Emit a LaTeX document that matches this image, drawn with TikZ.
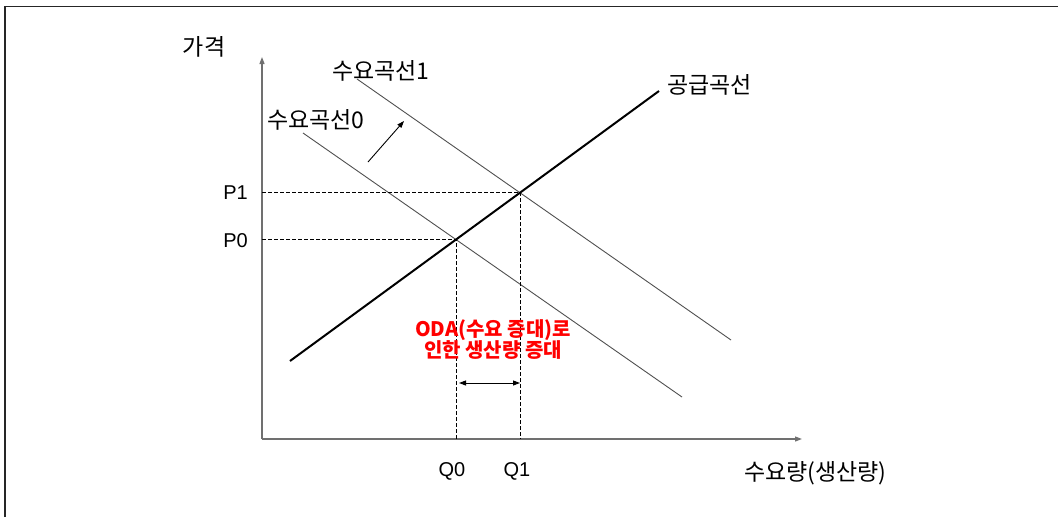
\documentclass[tikz,border=0pt]{standalone}
\usepackage{fontspec}
\setmainfont{Liberation Sans}
\newfontfamily\kr{Noto Sans CJK KR}
\usetikzlibrary{arrows.meta,positioning,calc}
\definecolor{axisgray}{HTML}{707070}
\definecolor{curvegray}{HTML}{505050}
\definecolor{odared}{HTML}{FF0000}

\begin{document}
\begin{tikzpicture}[x=1pt,y=-1pt, every node/.style={font=\fontsize{20}{24}\selectfont,inner sep=0pt}]
    \tikzstyle{axis}=[-{Triangle[length=7pt,width=5pt]},axisgray,line width=1.2pt]
    \tikzstyle{demand}=[curvegray,line width=0.9pt]
    \tikzstyle{supply}=[black,line width=2pt]
    \tikzstyle{guide}=[black,line width=0.8pt,dash pattern=on 3.5pt off 2.5pt]
    \tikzstyle{shiftarrow}=[-{Triangle[length=7pt,width=5pt]},black,line width=0.9pt]
    \tikzstyle{krlabel}=[font=\kr\fontsize{23}{27}\selectfont]
    \useasboundingbox (0,0) rectangle (1058,517);
    \draw[line width=1.8pt,black!85] (5,517) -- (5,6.5) -- (1058,6.5);
    % axes
    \coordinate (o) at (262,439);
    \coordinate (ytop) at (262,57);
    \coordinate (xend) at (802,439);
    \draw[axis] (o) -- (ytop);
    \draw[axis] (o) -- (xend);
    % curves
    \coordinate (s0) at (290,361);
    \coordinate (s1) at (659,91);
    \coordinate (d0a) at (303,133);
    \coordinate (d0b) at (682,397);
    \coordinate (d1a) at (357,79);
    \coordinate (d1b) at (731,340);
    \coordinate (e0) at (456,239);
    \coordinate (e1) at (520,192);
    \draw[demand] (d0a) -- (d0b);
    \draw[demand] (d1a) -- (d1b);
    \draw[supply] (s0) -- (s1);
    % equilibrium guides
    \draw[guide] (e1 -| o) -- (e1) -- (e1 |- o);
    \draw[guide] (e0 -| o) -- (e0) -- (e0 |- o);
    % shift of demand
    \coordinate (sh0) at (368,162);
    \coordinate (sh1) at (404,121);
    \draw[shiftarrow] (sh0) -- (sh1);
    \coordinate (w0) at (459,383);
    \coordinate (w1) at (520,383);
    \draw[{Triangle[length=7pt,width=5pt]}-{Triangle[length=7pt,width=5pt]},black,line width=0.9pt] (w0) -- (w1);
    % labels
    \node[krlabel] (price) at (204,47) {가격};
    \node[krlabel,anchor=west] (dem1) at (332,71) {수요곡선1};
    \node[krlabel,anchor=west] (dem0) at (267,120) {수요곡선0};
    \node[krlabel,anchor=west] (sup) at (667,85) {공급곡선};
    \node[anchor=east] (p1) at (248,193) {P1};
    \node[anchor=east] (p0) at (248,241) {P0};
    \node (q0) at (452,471) {Q0};
    \node (q1) at (517,471) {Q1};
    \node[krlabel,anchor=west] (qty) at (744,473) {수요량(생산량)};
    \node[font=\kr\bfseries\fontsize{20}{21}\selectfont,text=odared,align=center] (oda) at (493,340) {ODA(수요 증대)로\\인한 생산량 증대};
\end{tikzpicture}
\end{document}
